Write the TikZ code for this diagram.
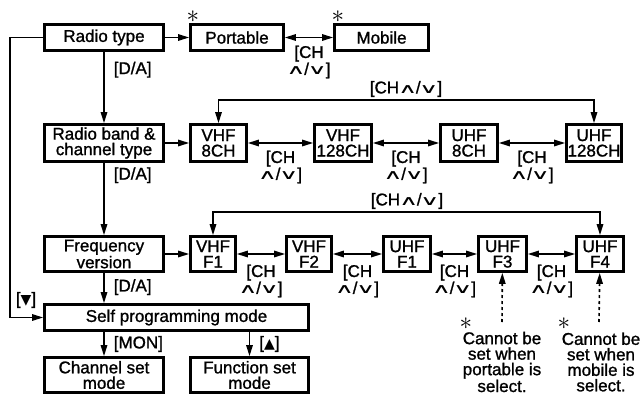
\documentclass[tikz,border=0pt]{standalone}
\usepackage{fontspec}
\setmainfont{Liberation Sans}[FakeBold=1.2]
\newfontfamily\symfont{DejaVu Sans}
\usetikzlibrary{arrows.meta}
\newcommand{\chv}[1]{\scalebox{1.55}[0.8]{\symfont #1}}
\newcommand{\chupdn}{\kern-1pt\chv{∧}\kern-1.5pt/\kern-1.5pt\chv{∨}\kern-1pt}
\newcommand{\tri}[1]{{\symfont\fontsize{14}{14}\selectfont #1}}

\begin{document}
\begin{tikzpicture}[x=1pt,y=-1pt,font=\fontsize{17}{15.5}\selectfont,
	box/.style={draw,line width=2.8pt,inner sep=0pt,align=center,minimum height=26pt},
	lbl/.style={inner sep=0pt,align=center},
	conn/.style={line width=1.6pt,-{Triangle[length=11pt,width=6.5pt]}},
	both/.style={line width=1.6pt,{Triangle[length=11pt,width=6.5pt]}-{Triangle[length=11pt,width=6.5pt]}},
	ast/.style={inner sep=0pt}]

	\useasboundingbox (0,0) rectangle (643,396);

	% radio type row
	\node[box,minimum width=119pt] (rtype) at (104,37.5) {Radio type};
	\node[box,minimum width=93pt] (port) at (237,37.5) {Portable};
	\node[box,minimum width=94pt] (mob) at (381.5,37.5) {Mobile};
	\node[ast] (astport) at (193,17) {\scalebox{1.45}{$\ast$}};
	\node[ast] (astmob) at (338,17) {\scalebox{1.45}{$\ast$}};

	% radio band row
	\node[box,minimum width=119pt,minimum height=37pt] (band) at (104,143) {Radio band \&\\channel type};
	\node[box,minimum width=56pt,minimum height=37pt] (v8) at (218.5,143) {VHF\\8CH};
	\node[box,minimum width=57pt,minimum height=37pt] (v128) at (343,143) {VHF\\128CH};
	\node[box,minimum width=57pt,minimum height=37pt] (u8) at (469,143) {UHF\\8CH};
	\node[box,minimum width=55pt,minimum height=37pt] (u128) at (594,143) {UHF\\128CH};

	% frequency row
	\node[box,minimum width=119pt,minimum height=35pt] (freq) at (104,254) {Frequency\\version};
	\node[box,minimum width=45pt,minimum height=35pt] (vf1) at (213,254) {VHF\\F1};
	\node[box,minimum width=45pt,minimum height=35pt] (vf2) at (309,254) {VHF\\F2};
	\node[box,minimum width=47pt,minimum height=35pt] (uf1) at (407,254) {UHF\\F1};
	\node[box,minimum width=48pt,minimum height=35pt] (uf3) at (502.5,254) {UHF\\F3};
	\node[box,minimum width=47pt,minimum height=35pt] (uf4) at (600,254) {UHF\\F4};

	% self programming
	\node[box,minimum width=264pt] (self) at (176.5,317.5) {Self programming mode};
	\node[box,minimum width=119pt,minimum height=35pt] (chan) at (104,375) {Channel set\\mode};
	\node[box,minimum width=118pt,minimum height=35pt] (func) at (249.5,375) {Function set\\mode};

	% notes
	\node[lbl] (note3) at (502,362) {Cannot be\\set when\\portable is\\select.};
	\node[lbl] (note4) at (601,362) {Cannot be\\set when\\mobile is\\select.};
	\node[ast] (ast3) at (466,324) {\scalebox{1.45}{$\ast$}};
	\node[ast] (ast4) at (564,324) {\scalebox{1.45}{$\ast$}};
	\coordinate (n3) at (502,322);
	\coordinate (n4) at (599,322);

	% connectors
	\draw[conn] (rtype) -- (port);
	\draw[both] (port) -- node[lbl,midway,yshift=-24.5pt] {[CH\\\chupdn]} (mob);
	\draw[conn] (rtype) -- node[lbl,right=9pt,pos=0.25] {[D/A]} (band);

	\draw[conn] (band) -- (v8);
	\draw[both] (v8) -- node[lbl,midway,yshift=-24pt] {[CH\\\chupdn]} (v128);
	\draw[both] (v128) -- node[lbl,midway,yshift=-24pt] {[CH\\\chupdn]} (u8);
	\draw[both] (u8) -- node[lbl,midway,yshift=-24pt] {[CH\\\chupdn]} (u128);
	\draw[both] (v8.north) -- ++(0,-23) -| (u128.north);
	\node[lbl] (topband) at (406,89) {[CH\chupdn]};
	\draw[conn] (band) -- node[lbl,right=9pt,pos=0.17] {[D/A]} (freq);

	\draw[conn] (freq) -- (vf1);
	\draw[both] (vf1) -- node[lbl,midway,yshift=-27pt] {[CH\\\chupdn]} (vf2);
	\draw[both] (vf2) -- node[lbl,midway,yshift=-27pt] {[CH\\\chupdn]} (uf1);
	\draw[both] (uf1) -- node[lbl,midway,yshift=-27pt] {[CH\\\chupdn]} (uf3);
	\draw[both] (uf3) -- node[lbl,midway,yshift=-27pt] {[CH\\\chupdn]} (uf4);
	\draw[both] (vf1.north) -- ++(0,-23) -| (uf4.north);
	\node[lbl] (topfreq) at (407,201) {[CH\chupdn]};
	\draw[conn] (freq) -- node[lbl,right=9pt,pos=0.47] {[D/A]} (freq.south |- self.north);

	\draw[conn] (rtype.west) -- ++(-33,0) |- (self.west);
	\node[lbl] (down) at (26,300) {[\tri{▼}]};
	\draw[conn] (chan.north |- self.south) -- node[lbl,right=9pt,midway] {[MON]} (chan);
	\draw[conn] (func.north |- self.south) -- node[lbl,right=9pt,midway] {[\tri{▲}]} (func);

	\draw[conn,dashed] (n3) -- (uf3);
	\draw[conn,dashed] (n4) -- (uf4);

\end{tikzpicture}
\end{document}
